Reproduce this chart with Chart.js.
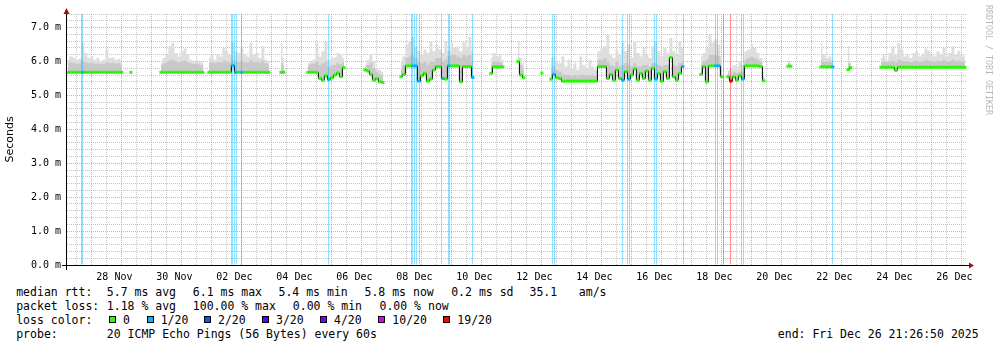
<!DOCTYPE html>
<html>
<head>
<meta charset="utf-8">
<script src="https://cdn.jsdelivr.net/npm/chart.js@4.4.1/dist/chart.umd.min.js"></script>
<style>
  html, body { margin: 0; padding: 0; background: #fff; }
  #wrap { position: relative; width: 997px; height: 347px; overflow: hidden; }
  #rtt { position: absolute; left: 0; top: 0; }
  .lg { position: absolute; font: 11.5px "DejaVu Sans Mono", monospace; line-height: 14px; color: #000; white-space: pre; }
  .sw { position: absolute; width: 7px; height: 7px; box-sizing: border-box; border: 1px solid #000; }
</style>
</head>
<body>
<div id="wrap">
  <canvas id="rtt" width="997" height="285"></canvas>
  <div id="legend"></div>
</div>
<script>
// time axis: days since 28 Nov 00:00, one sample every 0.1 day
const sampleStart = -1.05;
const sampleStep = 0.1;
const xMin = -1.08, xMax = 28.92;
const yMax = 7.4;

const xTickLabels = ['28 Nov', '30 Nov', '02 Dec', '04 Dec', '06 Dec', '08 Dec', '10 Dec', '12 Dec',
                     '14 Dec', '16 Dec', '18 Dec', '20 Dec', '22 Dec', '24 Dec', '26 Dec'];
const yTickLabels = ['0.0 m', '1.0 m', '2.0 m', '3.0 m', '4.0 m', '5.0 m', '6.0 m', '7.0 m'];

// median rtt (ms), null = no data
const medianRtt = [
  5.68,5.68,5.68,5.68,5.68,5.68,5.68,5.68,5.68,5.68,5.68,5.68,5.68,5.68,5.68,5.68,5.68,5.68,5.68,
  null,null,5.68,
  null,null,null,null,null,null,null,null,null,
  5.68,5.68,5.68,5.68,5.68,5.68,5.68,5.68,5.68,5.68,5.68,5.68,5.68,5.68,5.68,
  null,
  5.68,5.68,5.68,5.68,5.68,5.68,5.68,5.68,5.88,5.68,5.68,5.68,5.68,5.68,5.68,5.68,5.68,5.68,5.68,5.68,5.68,
  null,null,null,
  5.68,5.68,
  null,null,null,null,null,null,null,
  5.68,5.68,5.68,5.68,5.5,5.45,5.58,5.47,5.52,5.6,5.66,5.55,5.82,
  null,null,null,null,null,null,
  5.75,5.72,5.62,5.45,5.5,5.4,5.38,
  null,null,null,null,null,
  5.55,5.62,5.87,5.87,5.87,5.87,5.42,5.58,5.65,5.42,5.48,5.75,5.85,5.85,5.5,5.48,5.87,5.87,5.87,5.87,5.4,5.85,5.85,5.85,5.53,
  null,null,null,null,null,
  5.65,5.84,5.84,5.84,5.84,
  null,null,null,null,
  6.0,5.6,5.52,
  null,null,null,null,null,
  5.66,
  null,null,
  5.48,5.62,5.52,5.5,
  5.42,5.42,5.42,5.42,5.42,5.42,5.42,5.42,5.42,5.42,5.42,5.42,
  5.85,5.85,5.85,
  5.5,5.62,5.45,5.75,5.5,5.45,5.7,5.48,5.6,5.78,5.45,5.65,5.5,5.72,5.45,5.8,5.48,5.65,5.42,5.7,5.5,6.12,5.55,5.45,5.65,5.85,
  null,null,null,null,null,
  5.62,5.85,5.4,5.87,5.87,5.87,5.87,5.55,
  null,
  5.55,5.42,5.55,5.45,5.58,5.48,5.87,5.87,5.87,5.87,5.87,5.85,5.43,
  null,null,null,null,null,null,null,
  5.86,5.86,
  null,null,null,null,null,null,null,null,null,
  5.84,5.84,5.84,5.84,5.84,
  null,null,null,null,
  5.76,5.82,
  null,null,null,null,null,null,null,null,null,
  5.83,5.83,5.83,5.83,5.83,5.74,5.83,5.83,5.83,5.83,5.83,5.83,5.83,5.83,5.83,5.83,5.83,5.83,5.83,5.83,
  5.83,5.83,5.83,5.83,5.83,5.83,5.83,5.83,5.83
];

// top of the smoke (highest ping, ms)
const smokeTop = [
  6.05,6.15,6.12,6.05,6.08,6.55,6.25,6.1,6.15,6.05,6.1,6.0,6.05,6.35,6.1,6.12,6.05,6.08,5.98,
  null,null,6.0,
  null,null,null,null,null,null,null,null,null,
  5.95,6.1,6.2,6.45,6.55,6.25,6.15,6.3,6.38,6.2,6.05,6.0,6.05,5.98,6.0,
  null,
  6.1,6.2,6.05,6.2,6.15,6.4,6.3,6.2,6.55,6.3,6.25,6.45,6.2,6.15,6.55,6.2,6.25,6.1,6.45,6.05,6.02,
  null,null,null,
  6.55,6.1,
  null,null,null,null,null,null,null,
  5.95,6.0,6.05,6.58,6.15,6.3,6.58,6.05,6.1,6.12,6.25,6.2,6.1,
  null,null,null,null,null,null,
  5.9,6.05,6.22,6.0,5.8,5.75,5.7,
  null,null,null,null,null,
  6.0,6.15,6.5,6.6,6.72,6.45,6.3,6.2,6.35,6.25,6.6,6.3,6.5,6.35,6.25,6.6,6.3,6.55,6.4,6.45,6.3,6.58,6.45,6.72,6.3,
  null,null,null,null,null,
  6.1,6.25,6.15,6.2,6.05,
  null,null,null,null,
  6.6,6.1,5.95,
  null,null,null,null,null,
  5.75,
  null,null,
  6.1,6.15,6.0,5.95,
  6.15,5.85,6.05,5.8,5.95,5.75,6.15,5.9,5.8,6.05,5.85,5.75,
  6.3,6.4,6.45,
  6.78,6.2,6.1,6.35,6.2,6.55,6.3,6.5,6.1,6.6,6.25,6.15,6.4,6.2,6.1,6.45,6.6,6.3,6.15,6.4,6.25,6.7,6.3,6.2,6.6,6.4,
  null,null,null,null,null,
  6.15,6.25,6.4,6.8,6.55,6.65,6.5,6.1,
  null,
  5.75,5.8,5.9,5.85,6.0,5.9,6.3,6.35,6.5,6.4,6.25,6.1,5.7,
  null,null,null,null,null,null,null,
  6.05,5.98,
  null,null,null,null,null,null,null,null,null,
  6.55,6.2,6.1,6.15,6.05,
  null,null,null,null,
  6.45,6.0,
  null,null,null,null,null,null,null,null,null,
  6.1,6.2,6.05,6.25,6.45,6.2,6.55,6.35,6.15,6.2,6.1,6.25,6.3,6.15,6.2,6.38,6.32,6.2,6.15,6.3,
  6.2,6.4,6.15,6.25,6.45,6.2,6.32,6.2,6.15
];

// upper edge of the dense part of the smoke (ms)
const smokeBand = [
  5.95,5.97,5.95,5.93,5.95,6.0,5.98,5.95,5.96,5.93,5.95,5.92,5.94,5.98,5.95,5.96,5.93,5.94,5.9,
  null,null,5.85,
  null,null,null,null,null,null,null,null,null,
  5.88,5.95,5.98,6.02,6.05,6.0,5.97,6.0,6.02,5.98,5.95,5.92,5.94,5.9,5.92,
  null,
  5.95,5.98,5.95,5.98,5.97,6.02,6.0,5.98,6.05,6.0,5.98,6.02,5.98,5.97,6.05,5.98,6.0,5.96,6.02,5.95,5.93,
  null,null,null,
  5.95,5.9,
  null,null,null,null,null,null,null,
  5.88,5.92,5.93,6.0,5.9,5.95,6.0,5.85,5.88,5.9,5.95,5.92,5.98,
  null,null,null,null,null,null,
  5.82,5.9,5.95,5.8,5.7,5.62,5.6,
  null,null,null,null,null,
  5.8,5.9,6.1,6.15,6.2,6.1,6.0,5.95,6.0,5.9,6.0,6.0,6.1,6.1,6.0,6.05,6.15,6.2,6.2,6.15,6.1,6.2,6.15,6.2,6.0,
  null,null,null,null,null,
  5.9,6.0,6.0,5.98,5.95,
  null,null,null,null,
  6.1,5.9,5.75,
  null,null,null,null,null,
  5.7,
  null,null,
  5.8,5.85,5.75,5.7,
  5.62,5.6,5.6,5.58,5.6,5.58,5.62,5.6,5.58,5.6,5.6,5.58,
  6.05,6.05,6.1,
  6.0,5.9,5.85,6.0,5.85,5.9,5.95,5.9,5.85,5.95,5.85,5.85,5.9,5.9,5.85,5.95,5.95,5.9,5.85,5.9,5.9,6.15,5.9,5.85,5.95,6.0,
  null,null,null,null,null,
  5.9,6.0,6.05,6.2,6.2,6.2,6.15,5.85,
  null,
  5.65,5.6,5.7,5.65,5.7,5.7,6.05,6.1,6.15,6.1,6.05,6.0,5.55,
  null,null,null,null,null,null,null,
  5.95,5.92,
  null,null,null,null,null,null,null,null,null,
  6.05,6.0,6.0,6.0,5.95,
  null,null,null,null,
  5.95,5.92,
  null,null,null,null,null,null,null,null,null,
  5.98,6.0,5.98,6.0,6.02,5.98,6.05,6.02,6.0,6.0,5.98,6.0,6.02,6.0,6.0,6.05,6.02,6.0,6.0,6.02,
  6.0,6.05,6.0,6.0,6.05,6.0,6.02,6.0,5.98
];

// packet loss events: time (days since 28 Nov) and loss class
const lossDays = [-0.5967, -0.5633, 4.4033, 4.4367, 4.5033, 4.5700, 4.7367, 7.6367, 10.4033, 10.4367,
                  10.5033, 10.5700, 10.6700, 11.4033, 11.6367, 11.6700, 12.4367, 15.1033, 15.1700, 17.4367,
                  17.6033, 17.6700, 18.5033, 18.5700, 19.4700, 20.5367, 20.6033, 20.8033, 21.0367, 21.4033,
                  21.4700, 24.4367];
const lossLevel = [1, 1, 1, 1, 1, 1, 1, 1, 1, 1,
                   1, 1, 1, 1, 1, 1, 1, 1, 1, 1,
                   1, 1, 1, 1, 1, 1, 1, 6, 6, 1,
                   1, 1];

const lossLabels = ['0', '1/20', '2/20', '3/20', '4/20', '10/20', '19/20'];
const lossColors = ['#26ff00', '#00b8ff', '#0059ff', '#5e00ff', '#7e00ff', '#dd00ff', '#ff0000'];

if (smokeTop.length !== medianRtt.length || smokeBand.length !== medianRtt.length) {
  throw new Error('length mismatch ' + medianRtt.length + ' ' + smokeTop.length + ' ' + smokeBand.length);
}

const xOf = i => sampleStart + i * sampleStep;
const toPts = arr => arr.map((v, i) => ({ x: xOf(i), y: v }));

// loss class shown on the median for each sample
const pointLoss = medianRtt.map(() => 0);
lossDays.forEach((d, k) => {
  const i = Math.round((d - sampleStart) / sampleStep);
  if (i >= 0 && i < pointLoss.length) pointLoss[i] = Math.max(pointLoss[i], lossLevel[k]);
});

const majorGrid = 'rgba(200,80,80,0.5)';
const minorGrid = 'rgba(140,140,140,0.5)';
const monoFont = { family: 'DejaVu Sans Mono', size: 10 };
const gridColor = ctx => (ctx.tick && Number.isInteger(ctx.tick.value)) ? majorGrid : minorGrid;

const frame = {
  id: 'frame',
  afterDraw(chart) {
    const { ctx, chartArea: a } = chart;
    ctx.save();
    ctx.strokeStyle = '#000';
    ctx.lineWidth = 1;
    ctx.beginPath();
    ctx.moveTo(a.left - 5, a.bottom + 0.5);
    ctx.lineTo(a.right + 3, a.bottom + 0.5);
    ctx.moveTo(a.left - 0.5, a.bottom + 5);
    ctx.lineTo(a.left - 0.5, a.top - 1);
    ctx.stroke();
    ctx.fillStyle = '#a01010';
    ctx.beginPath();
    ctx.moveTo(a.left - 0.5, a.top - 6);
    ctx.lineTo(a.left - 3.5, a.top);
    ctx.lineTo(a.left + 2.5, a.top);
    ctx.fill();
    ctx.beginPath();
    ctx.moveTo(a.right + 7, a.bottom + 0.5);
    ctx.lineTo(a.right + 2, a.bottom - 2.5);
    ctx.lineTo(a.right + 2, a.bottom + 3.5);
    ctx.fill();
    // vertical watermark
    ctx.translate(988, 5);
    ctx.rotate(Math.PI / 2);
    ctx.fillStyle = '#b8b8b8';
    ctx.font = '8.3px "DejaVu Sans Mono"';
    ctx.textBaseline = 'middle';
    ctx.fillText('RRDTOOL / TOBI OETIKER', 0, 0);
    ctx.restore();
  }
};

new Chart(document.getElementById('rtt'), {
  type: 'line',
  data: {
    datasets: [
      {
        label: 'median',
        data: toPts(medianRtt),
        showLine: false,
        pointStyle: 'line',
        pointRadius: 1.5,
        pointBorderWidth: 3,
        pointBorderColor: ctx => lossColors[pointLoss[ctx.dataIndex] || 0],
        order: 0
      },
      {
        label: 'median line',
        data: toPts(medianRtt),
        borderColor: '#000',
        borderWidth: 1,
        stepped: 'middle',
        pointRadius: 0,
        spanGaps: false,
        order: 1
      },
      {
        type: 'bar',
        label: 'loss',
        data: lossDays.map((d, k) => ({ x: d, y: yMax, k })),
        backgroundColor: ctx => lossColors[ctx.raw ? lossLevel[ctx.raw.k] : 1] + '70',
        barThickness: 1,
        inflateAmount: 0,
        borderWidth: 0,
        order: 2
      },
      {
        label: 'smoke band',
        data: toPts(smokeBand),
        borderWidth: 0,
        pointRadius: 0,
        stepped: 'middle',
        backgroundColor: '#c8c8c8',
        fill: 1,
        order: 3
      },
      {
        label: 'smoke',
        data: toPts(smokeTop),
        borderWidth: 0,
        pointRadius: 0,
        stepped: 'middle',
        backgroundColor: '#dedede',
        fill: 1,
        order: 4
      }
    ]
  },
  options: {
    responsive: false,
    animation: false,
    events: [],
    layout: { padding: { left: 0, top: 14, right: 30, bottom: 0 } },
    plugins: { legend: { display: false }, tooltip: { enabled: false } },
    scales: {
      x: {
        type: 'linear',
        min: xMin,
        max: xMax,
        offset: false,
        afterBuildTicks: s => {
          const t = [];
          for (let v = -1; v <= xMax; v += 0.5) t.push({ value: v });
          s.ticks = t;
        },
        afterFit: s => { s.height = 20; },
        ticks: {
          autoSkip: false,
          maxRotation: 0,
          padding: 6,
          color: '#000',
          font: monoFont,
          callback: v => {
            const k = (v - 0.5) / 2;
            return Number.isInteger(k) && k >= 0 && k < xTickLabels.length ? xTickLabels[k] : '';
          }
        },
        grid: { drawTicks: false, lineWidth: 1, color: gridColor },
        border: { display: false, dash: [1, 1] }
      },
      y: {
        min: 0,
        max: yMax,
        afterBuildTicks: s => {
          const t = [];
          for (let j = 0; j <= 37; j++) t.push({ value: j / 5 });
          s.ticks = t;
        },
        afterFit: s => { s.width = 67; },
        ticks: {
          autoSkip: false,
          padding: 6,
          color: '#000',
          font: monoFont,
          callback: v => Number.isInteger(v) ? yTickLabels[v] : ''
        },
        grid: { drawTicks: false, lineWidth: 1, color: gridColor },
        border: { display: false, dash: [1, 1] },
        title: {
          display: true,
          text: 'Seconds',
          color: '#000',
          font: { family: 'DejaVu Sans', size: 11 },
          padding: { top: 4, bottom: 0 }
        }
      }
    }
  },
  plugins: [frame]
});

/* LEGEND (rrdtool style text block) */
const legendText = [
  [16.7, 291.5, 'median rtt:'], [107.3, 291.5, '5.7 ms avg'], [193.3, 291.5, '6.1 ms max'],
  [279, 291.5, '5.4 ms min'], [365, 291.5, '5.8 ms now'], [451.7, 291.5, '0.2 ms sd'],
  [530, 291.5, '35.1'], [579.3, 291.5, 'am/s'],
  [16.7, 305.5, 'packet loss:'], [107.3, 305.5, '1.18 % avg'], [193.3, 305.5, '100.00 % max'],
  [293.3, 305.5, '0.00 % min'], [380, 305.5, '0.00 % now'],
  [16.7, 319.5, 'loss color:'],
  [16.7, 333.5, 'probe:'], [107.3, 333.5, '20 ICMP Echo Pings (56 Bytes) every 60s'],
  [778.3, 333.5, 'end: Fri Dec 26 21:26:50 2025']
];
const swatchX = [109, 146.7, 204, 262, 320, 378.3, 443.3];

const legend = document.getElementById('legend');
legendText.forEach(([x, y, s]) => {
  const el = document.createElement('div');
  el.className = 'lg';
  el.style.left = (x - 0.5) + 'px';
  el.style.top = (y - 7) + 'px';
  el.textContent = s;
  legend.appendChild(el);
});
lossLabels.forEach((s, k) => {
  const box = document.createElement('div');
  box.className = 'sw';
  box.style.left = swatchX[k] + 'px';
  box.style.top = '316px';
  box.style.background = lossColors[k];
  legend.appendChild(box);
  const el = document.createElement('div');
  el.className = 'lg';
  el.style.left = (swatchX[k] + 14) + 'px';
  el.style.top = '312.5px';
  el.textContent = s;
  legend.appendChild(el);
});
</script>
</body>
</html>
